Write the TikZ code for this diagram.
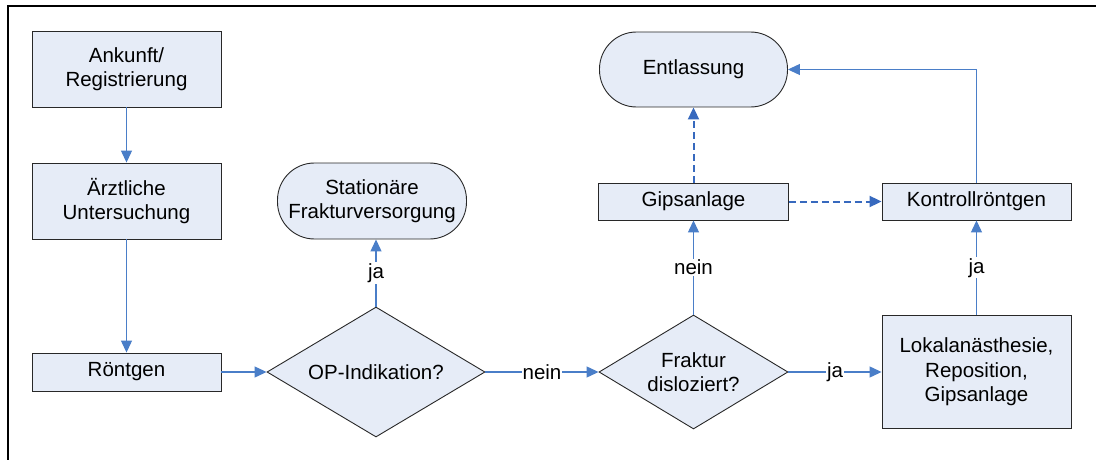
\documentclass[tikz,border=0pt]{standalone}
\usepackage{fontspec}
\setmainfont{Liberation Sans}
\usetikzlibrary{shapes.geometric,arrows.meta}
\definecolor{boxfill}{RGB}{230,236,247}
\definecolor{linkblue}{RGB}{74,126,200}
\definecolor{dashblue}{RGB}{55,105,190}
\definecolor{boxline}{RGB}{40,40,40}
\begin{document}
\begin{tikzpicture}[x=1pt,y=-1pt,
  every node/.style={font=\fontsize{20.5pt}{24.5pt}\selectfont, align=center, inner sep=0pt},
  procbox/.style={draw=boxline, fill=boxfill, line width=0.9pt, minimum width=189pt},
  termbox/.style={draw=boxline, fill=boxfill, line width=0.9pt, rounded corners=37pt},
  decbox/.style={draw=boxline, fill=boxfill, line width=0.9pt, diamond},
  link/.style={draw=linkblue, line width=1.2pt, -{Triangle[length=12pt,width=11pt]}},
  dlink/.style={draw=dashblue, line width=2pt, dash pattern=on 7pt off 4pt, -{Triangle[length=12pt,width=11pt]}},
  lbl/.style={fill=white, inner sep=1pt}
]
\useasboundingbox (0,0) rectangle (1096,460);
\fill[white] (0,0) rectangle (1096,460);
\draw[line width=2.5pt, line join=miter] (8,460) -- (8,6) -- (1096,6);

\node[procbox, minimum height=76pt] (ankunft) at (126.5,69) {Ankunft/\\Registrierung};
\node[procbox, minimum height=76pt] (aerzt) at (126.5,201) {Ärztliche\\Untersuchung};
\node[procbox, minimum height=38pt] (roent) at (126.5,372) {Röntgen};
\node[decbox, minimum width=218pt, minimum height=130pt, aspect=1.68] (op) at (376,372) {OP-Indikation?};
\node[termbox, minimum width=189pt, minimum height=76pt] (stat) at (372,201) {Stationäre\\Frakturversorgung};
\node[decbox, minimum width=189pt, minimum height=114pt, aspect=1.66] (frak) at (693.5,372) {Fraktur\\disloziert?};
\node[procbox, minimum width=190pt, minimum height=37pt] (gips) at (693.5,201.5) {Gipsanlage};
\node[termbox, minimum width=188pt, minimum height=75pt] (entl) at (693.5,69.5) {Entlassung};
\node[procbox, minimum height=37pt] (kontr) at (976.5,201.5) {Kontrollröntgen};
\node[procbox, minimum height=113pt] (lokal) at (976.5,372) {Lokalanästhesie,\\Reposition,\\Gipsanlage};

\draw[link] (ankunft) -- (aerzt);
\draw[link] (aerzt) -- (roent);
\draw[link] (roent) -- (op);
\draw[link] (op.north) -- node[lbl] {ja} (op.north |- stat.south);
\draw[link] (op.east) -- node[lbl] {nein} (frak.west);
\draw[link] (frak.east) -- node[lbl] {ja} (lokal.west);
\draw[link] (frak.north) -- node[lbl] {nein} (gips.south);
\draw[link] (lokal.north) -- node[lbl] {ja} (kontr.south);
\draw[dlink] (gips.north) -- (entl.south);
\draw[dlink] (gips.east) -- (kontr.west);
\draw[link] (kontr.north) |- (entl.east);
\end{tikzpicture}
\end{document}
